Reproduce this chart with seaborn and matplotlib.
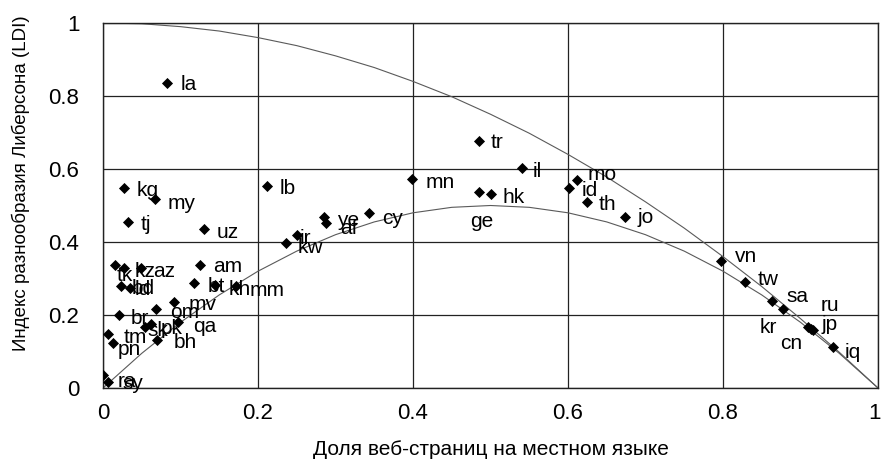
import matplotlib
matplotlib.use("Agg")
import matplotlib.pyplot as plt
import matplotlib.transforms as mtransforms
import seaborn as sns
import pandas as pd

# ---- data ----
codes = ["la", "kg", "my", "tj", "uz", "lb", "kw", "ir", "ye", "af", "cy", "mn",
         "tr", "il", "ge", "hk", "id", "mo", "th", "jo",
         "vn", "tw", "sa", "kr", "ru", "jp", "cn", "iq",
         "tk", "kz", "az", "bd", "ld", "am", "bt", "kh", "mm", "mv", "om", "br",
         "sk", "qa", "pk", "bh", "tm", "pn", "ra", "sy"]
share = [0.083, 0.027, 0.067, 0.032, 0.130, 0.211, 0.236, 0.250, 0.285, 0.288, 0.343, 0.399,
         0.485, 0.540, 0.485, 0.500, 0.601, 0.611, 0.624, 0.674,
         0.798, 0.829, 0.863, 0.877, 0.910, 0.913, 0.916, 0.942,
         0.015, 0.027, 0.049, 0.023, 0.035, 0.125, 0.117, 0.145, 0.172, 0.092, 0.068, 0.021,
         0.054, 0.097, 0.062, 0.070, 0.006, 0.013, 0.000, 0.006]
ldi = [0.836, 0.548, 0.518, 0.455, 0.435, 0.553, 0.397, 0.420, 0.468, 0.452, 0.479, 0.572,
       0.677, 0.603, 0.537, 0.532, 0.548, 0.570, 0.510, 0.468,
       0.348, 0.290, 0.238, 0.216, 0.166, 0.162, 0.159, 0.112,
       0.337, 0.329, 0.329, 0.279, 0.274, 0.337, 0.288, 0.282, 0.279, 0.236, 0.216, 0.200,
       0.167, 0.181, 0.175, 0.132, 0.148, 0.123, 0.036, 0.016]

curve_x = [0.00, 0.05, 0.10, 0.15, 0.20, 0.25, 0.30, 0.35, 0.40, 0.45, 0.50,
           0.55, 0.60, 0.65, 0.70, 0.75, 0.80, 0.85, 0.90, 0.95, 1.00]
upper_curve = [1.000, 0.998, 0.990, 0.978, 0.960, 0.938, 0.910, 0.878, 0.840, 0.798, 0.750,
               0.698, 0.640, 0.578, 0.510, 0.438, 0.360, 0.278, 0.190, 0.098, 0.000]
lower_curve = [0.000, 0.095, 0.180, 0.255, 0.320, 0.375, 0.420, 0.455, 0.480, 0.495, 0.500,
               0.495, 0.480, 0.455, 0.420, 0.375, 0.320, 0.255, 0.180, 0.095, 0.000]

x_ticks = [0, 0.2, 0.4, 0.6, 0.8, 1]
x_tick_labels = ["0", "0.2", "0.4", "0.6", "0.8", "1"]
y_ticks = [0, 0.2, 0.4, 0.6, 0.8, 1]
y_tick_labels = ["0", "0.2", "0.4", "0.6", "0.8", "1"]

x_title = "Доля веб-страниц на местном языке"
y_title = "Индекс разнообразия Либерсона (LDI)"

# ---- label placement (layout: offsets in pixels, +x right, +y up) ----
default_offset = (13, -3)
label_offsets = {
    "la": (13, -2), "my": (13, -5), "lb": (13, -2), "cy": (13, -5), "af": (14, -5),
    "ir": (3, -4), "kw": (12, -4), "tr": (12, -2), "il": (11, -4),
    "ge": (-9, -30), "hk": (12, -4), "mo": (11, 5), "id": (13, -3), "th": (12, -3),
    "jo": (12, 0), "vn": (13, 4), "tw": (12, 3), "sa": (15, 5), "kr": (-23, -18),
    "ru": (12, 22), "jp": (11, 4), "cn": (-33, -14), "iq": (12, -5),
    "tk": (2, -11), "kz": (11, -4), "az": (12, -4), "bd": (11, -2), "ld": (4, -2),
    "am": (13, -2), "bt": (14, -4), "kh": (13, -4), "mm": (13, -4),
    "mv": (14, -3), "om": (14, -3), "br": (11, -4), "sk": (3, -3), "pk": (10, -4),
    "qa": (15, -5), "bh": (16, -3), "tm": (16, -4), "pn": (5, -6),
    "ra": (15, -7), "sy": (15, -1),
}

sns.set_theme(style="white")
plt.rcParams["font.family"] = ["Liberation Sans", "DejaVu Sans"]

fig = plt.figure(figsize=(8.82, 4.71), dpi=100)
ax = fig.add_axes([103 / 882, 1 - 388 / 471, 775 / 882, 365 / 471])

curves = pd.DataFrame({"x": curve_x, "upper": upper_curve, "lower": lower_curve})
sns.lineplot(data=curves, x="x", y="upper", ax=ax, color="#5a5a5a", linewidth=0.8, sort=False)
sns.lineplot(data=curves, x="x", y="lower", ax=ax, color="#5a5a5a", linewidth=0.8, sort=False)

pts = pd.DataFrame({"code": codes, "share": share, "ldi": ldi})
sns.scatterplot(data=pts, x="share", y="ldi", ax=ax, marker="D", color="black",
                s=32, linewidth=0, zorder=3)

for c, xv, yv in zip(codes, share, ldi):
    dx, dy = label_offsets.get(c, default_offset)
    ax.annotate(c, (xv, yv), xytext=(dx, dy), textcoords="offset pixels",
                ha="left", va="center", fontsize=15, color="black", zorder=4)

ax.set_xlim(0, 1)
ax.set_ylim(0, 1)
ax.set_xticks(x_ticks)
ax.set_xticklabels(x_tick_labels)
ax.set_yticks(y_ticks)
ax.set_yticklabels(y_tick_labels)
ax.grid(True, color="#222222", linewidth=0.9)
ax.set_axisbelow(True)
for s in ax.spines.values():
    s.set_color("#222222")
    s.set_linewidth(1.0)
ax.tick_params(axis="x", length=0, pad=11, labelsize=16, colors="black")
ax.tick_params(axis="y", length=0, pad=17, labelsize=16, colors="black")
# keep the last x tick label ("1") inside the canvas
last = ax.get_xticklabels()[-1]
last.set_transform(last.get_transform() +
                   mtransforms.ScaledTranslation(-4 / 100, 0, fig.dpi_scale_trans))
ax.set_xlabel(x_title, fontsize=15, color="black")
ax.set_ylabel(y_title, fontsize=13.5, color="black")
ax.xaxis.set_label_coords(0.5, -(440 - 388) / 365)
ax.yaxis.set_label_coords(-(103 - 30) / 775, (388 - 183) / 365)

fig.savefig("out.png", dpi=100)
